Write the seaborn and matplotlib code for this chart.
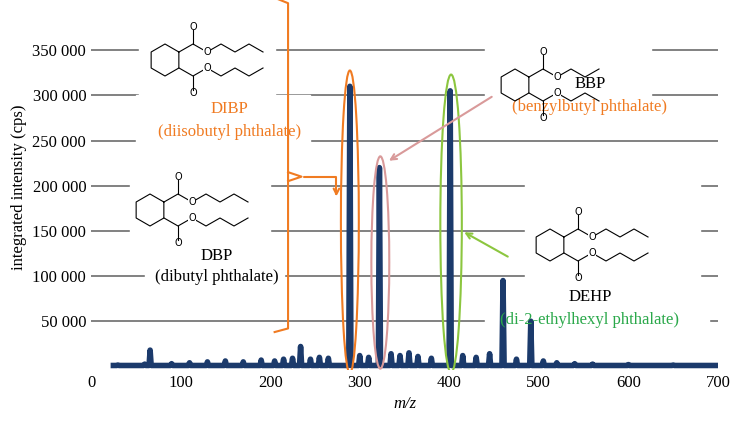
import matplotlib.pyplot as plt
import seaborn as sns
import pandas as pd
import numpy as np
from matplotlib.patches import Ellipse, Rectangle

# Spectrum peaks (m/z, intensity)
peak_mz = [30, 60, 66, 90, 110, 130, 150, 170, 190, 205, 215, 225, 234, 245, 255, 265, 289,
           300, 310, 322, 335, 345, 355, 365, 380, 401, 415, 430, 445, 460, 475, 491, 505, 520, 540, 560, 600, 650, 690]
peak_int = [1500, 2500, 18000, 3000, 4000, 5000, 6000, 5000, 7000, 6000, 8000, 9000, 22000, 8000, 10000, 9000, 310000,
            12000, 10000, 220000, 14000, 12000, 15000, 11000, 9000, 305000, 12000, 10000, 14000, 95000, 8000, 50000, 6000, 4000, 3000, 2500, 2000, 1500, 1000]
yticks = [50000, 100000, 150000, 200000, 250000, 300000, 350000]
ytick_labels = ["50 000", "100 000", "150 000", "200 000", "250 000", "300 000", "350 000"]
xticks = [0, 100, 200, 300, 400, 500, 600, 700]

navy = "#1b3a6b"
orange = "#f07b22"
pink = "#d99a9a"
green = "#8cc63f"
green_txt = "#2aa84a"
plt.rcParams["font.family"] = "Liberation Serif"

xs, ys = [25], [1000]
for m, h in zip(peak_mz, peak_int):
    xs += [m - 1.2, m, m + 1.2]
    ys += [1000, h, 1000]
xs.append(700); ys.append(1000)
df = pd.DataFrame({"mz": xs, "intensity": ys})

fig = plt.figure(figsize=(7.37, 4.26), dpi=100)
ax = fig.add_axes([91 / 737, 56 / 426, 627 / 737, 365 / 426])
for y in yticks:
    ax.axhline(y, color="#777777", lw=1.3, zorder=0)

sns.lineplot(data=df, x="mz", y="intensity", ax=ax, color=navy, lw=4, estimator=None, sort=False, zorder=3)

# white areas where the structures sit (break the grid lines)
for x0, x1, y0, y1 in [(54, 205, 300000, 405000), (43, 200, 135000, 245000),
                       (440, 625, 262000, 405000), (485, 680, 85000, 215000),
                       (50, 245, 245000, 300000), (60, 215, 85000, 135000),
                       (440, 690, 40000, 80000)]:
    ax.add_patch(Rectangle((x0, y0), x1 - x0, y1 - y0, color="white", zorder=1))


def structure(left, bottom, chains):
    # simple phthalate sketch: benzene ring with two ester arms
    sa = fig.add_axes([left / 737, 1 - bottom / 426, 130 / 737, 80 / 426], zorder=5)
    sa.set_xlim(0, 6.5); sa.set_ylim(0, 4); sa.set_aspect("equal"); sa.axis("off")
    ang = np.deg2rad(np.arange(30, 391, 60))
    sa.plot(1 + 0.8 * np.cos(ang), 2 + 0.8 * np.sin(ang), color="black", lw=0.8)
    for yy, d in [(2.4, 1), (1.6, -1)]:
        sa.plot([1.7, 2.4, 3.1, 3.8] + chains, [yy, yy + 0.4 * d, yy, yy + 0.4 * d] + [yy] * 0 * len(chains) + ([] if not chains else []), color="black", lw=0.8) if False else None
        pts_x = [1.7, 2.4, 3.1, 3.8, 4.5, 5.2, 5.9][:3 + chains]
        pts_y = [yy + (0.4 * d if i % 2 else 0) for i in range(len(pts_x))]
        sa.plot(pts_x, pts_y, color="black", lw=0.8)
        sa.plot([2.4, 2.4], [yy + 0.4 * d, yy + 1.1 * d], color="black", lw=0.8)
        sa.text(2.4, yy + 1.25 * d, "O", ha="center", va="center", fontsize=7, family="DejaVu Sans")
        sa.text(3.1, yy, "O", ha="center", va="center", fontsize=7, family="DejaVu Sans",
                bbox=dict(fc="white", ec="none", pad=0))


structure(145, 100, 4)
structure(130, 250, 4)
structure(495, 125, 3)
structure(530, 285, 4)

ax.text(155, 280000, "DIBP", color=orange, ha="center", fontsize=12, zorder=4)
ax.text(155, 255000, "(diisobutyl phthalate)", color=orange, ha="center", fontsize=12, zorder=4)
ax.text(140, 118000, "DBP", color="black", ha="center", fontsize=12, zorder=4)
ax.text(140, 95000, "(dibutyl phthalate)", color="black", ha="center", fontsize=12, zorder=4)
ax.text(557, 308000, "BBP", color="black", ha="center", fontsize=12, zorder=4)
ax.text(557, 283000, "(benzylbutyl phthalate)", color=orange, ha="center", fontsize=12, zorder=4)
ax.text(557, 72000, "DEHP", color="black", ha="center", fontsize=12, zorder=4)
ax.text(557, 47000, "(di-2-ethylhexyl phthalate)", color=green_txt, ha="center", fontsize=12, zorder=4)

# ellipses
ax.add_patch(Ellipse((289, 160000), 20, 335000, fill=False, ec=orange, lw=1.5, zorder=4))
ax.add_patch(Ellipse((323, 115000), 20, 235000, fill=False, ec=pink, lw=1.5, zorder=4))
ax.add_patch(Ellipse((402, 158000), 24, 330000, fill=False, ec=green, lw=1.5, zorder=4))

# orange bracket
ax.plot([205, 220, 220, 205], [408000, 402000, 42000, 38000], color=orange, lw=1.5, zorder=4, clip_on=False)
ax.plot([220, 235, 220], [205000, 210000, 215000], color=orange, lw=1.5, zorder=4)
ax.annotate("", xy=(274, 185000), xytext=(235, 210000),
            arrowprops=dict(arrowstyle="->", color=orange, lw=1.5, connectionstyle="angle,angleA=0,angleB=90"), zorder=4)
ax.annotate("", xy=(330, 226000), xytext=(450, 300000),
            arrowprops=dict(arrowstyle="->", color=pink, lw=1.5), zorder=4)
ax.annotate("", xy=(414, 150000), xytext=(468, 120000),
            arrowprops=dict(arrowstyle="->", color=green, lw=1.5), zorder=4)

ax.set_xlim(0, 700)
ax.set_ylim(-4000, 400000)
ax.set_xticks(xticks)
ax.set_yticks(yticks)
ax.set_yticklabels(ytick_labels)
ax.tick_params(length=0, labelsize=12)
ax.set_xlabel("m/z", fontsize=12, style="italic")
ax.set_ylabel("integrated intensity (cps)", fontsize=12)
for s in ax.spines.values():
    s.set_visible(False)
fig.savefig("out.png", dpi=100)
